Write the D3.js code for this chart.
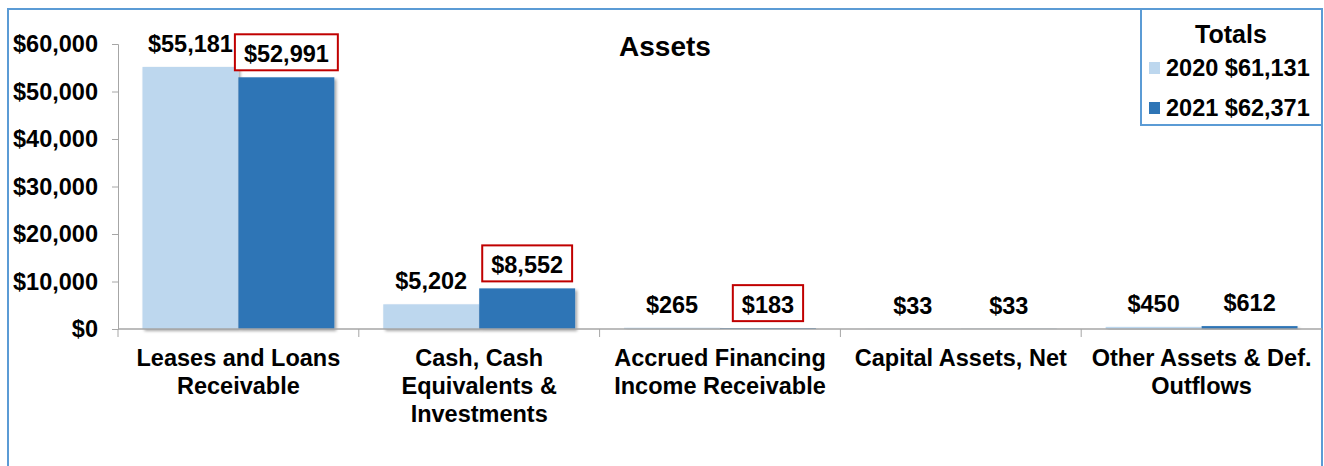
<!DOCTYPE html>
<html>
<head>
<meta charset="utf-8">
<script src="https://cdn.jsdelivr.net/npm/d3@7"></script>
<style>
  body { margin: 0; background: #fff; }
  svg { display: block; font-family: Arial, "Liberation Sans", sans-serif; font-weight: bold; }
</style>
</head>
<body>
<script>
const categories = [
    ["Leases and Loans", "Receivable"],
    ["Cash, Cash", "Equivalents &", "Investments"],
    ["Accrued Financing", "Income Receivable"],
    ["Capital Assets, Net"],
    ["Other Assets & Def.", "Outflows"]
];
const seriesNames = ["2020", "2021"];
const values2020 = [55181, 5202, 265, 33, 450];
const values2021 = [52991, 8552, 183, 33, 612];
const totals = [61131, 62371];
const boxed2021 = [true, true, true, false, false];
const yTicks = [0, 10000, 20000, 30000, 40000, 50000, 60000];

const width = 1324, height = 466;
const colors = {"2020": "#bdd7ee", "2021": "#2e75b6"};
const borderColor = "#5b9bd5";
const fmt = v => "$" + d3.format(",")(v);
const fontSize = 23.5;

const svg = d3.select("body").append("svg")
    .attr("width", width)
    .attr("height", height);

const defs = svg.append("defs");
const shadow = defs.append("filter").attr("id", "shadow")
    .attr("x", "-10%").attr("y", "-10%").attr("width", "130%").attr("height", "130%");
shadow.append("feDropShadow")
    .attr("dx", 2).attr("dy", 2).attr("stdDeviation", 1.5)
    .attr("flood-color", "#000").attr("flood-opacity", 0.35);

// outer border (no bottom edge visible)
svg.append("path")
    .attr("d", `M8,${height} L8,9 L1322,9 L1322,${height}`)
    .attr("fill", "none")
    .attr("stroke", borderColor)
    .attr("stroke-width", 2);

const x0 = d3.scaleBand()
    .domain(d3.range(categories.length))
    .range([118, 1322])
    .padding(0);

const x1 = d3.scaleBand()
    .domain(seriesNames)
    .range([0, x0.bandwidth()])
    .paddingInner(0)
    .paddingOuter(0.255);

const y = d3.scaleLinear()
    .domain([0, 60000])
    .range([329, 44]);

// y axis
const yAxis = svg.append("g")
    .attr("transform", "translate(118,0)")
    .call(d3.axisLeft(y).tickValues(yTicks).tickSize(6).tickPadding(14).tickFormat(fmt));
yAxis.selectAll("line, path").attr("stroke", "#a6a6a6");
yAxis.selectAll("text")
    .attr("font-size", fontSize)
    .attr("font-family", "Arial, 'Liberation Sans', sans-serif")
    .attr("font-weight", "bold")
    .attr("fill", "#000");

// bars
const rows = categories.map((c, i) => ({
    i,
    items: [
        {s: "2020", v: values2020[i], boxed: false},
        {s: "2021", v: values2021[i], boxed: boxed2021[i]}
    ]
}));

const groups = svg.append("g").selectAll("g")
    .data(rows)
    .join("g")
    .attr("transform", d => `translate(${x0(d.i)},0)`);

groups.selectAll("rect")
    .data(d => d.items)
    .join("rect")
    .attr("x", d => x1(d.s))
    .attr("y", d => y(d.v))
    .attr("width", x1.bandwidth())
    .attr("height", d => y(0) - y(d.v))
    .attr("fill", d => colors[d.s])
    .attr("filter", "url(#shadow)");

// x axis baseline and category ticks
const xAxis = svg.append("g");
xAxis.append("line")
    .attr("x1", 118).attr("x2", 1322)
    .attr("y1", y(0)).attr("y2", y(0))
    .attr("stroke", "#a6a6a6").attr("stroke-width", 1.5);
xAxis.selectAll(".cat-tick")
    .data(d3.range(categories.length))
    .join("line")
    .attr("class", "cat-tick")
    .attr("x1", d => x0(d)).attr("x2", d => x0(d))
    .attr("y1", y(0)).attr("y2", y(0) + 8)
    .attr("stroke", "#a6a6a6");

// category labels
svg.append("g").selectAll("text")
    .data(categories)
    .join("text")
    .attr("x", (d, i) => x0(i) + x0.bandwidth() / 2)
    .attr("y", 366)
    .attr("text-anchor", "middle")
    .attr("font-size", fontSize)
    .each(function(lines) {
        const t = d3.select(this);
        lines.forEach((line, k) => {
            t.append("tspan")
                .attr("x", t.attr("x"))
                .attr("dy", k === 0 ? 0 : 28)
                .text(line);
        });
    });

// value labels
const labels = groups.selectAll(".val")
    .data(d => d.items)
    .join("g")
    .attr("class", "val");

labels.append("text")
    .attr("x", d => x1(d.s) + x1.bandwidth() / 2)
    .attr("y", d => y(d.v) - 15)
    .attr("text-anchor", "middle")
    .attr("font-size", fontSize)
    .text(d => fmt(d.v));

// red boxes round the highlighted 2021 labels
labels.filter(d => d.boxed).each(function(d) {
    const g = d3.select(this);
    const w = g.select("text").node().getComputedTextLength();
    g.insert("rect", "text")
        .attr("x", x1(d.s) + x1.bandwidth() / 2 - w / 2 - 9)
        .attr("y", y(d.v) - 43)
        .attr("width", w + 18)
        .attr("height", 36)
        .attr("fill", "#fff")
        .attr("stroke", "#c00000")
        .attr("stroke-width", 2);
});

// title
svg.append("text")
    .attr("x", 665)
    .attr("y", 56)
    .attr("text-anchor", "middle")
    .attr("font-size", 28)
    .text("Assets");

// legend
const legend = svg.append("g");
legend.append("rect")
    .attr("x", 1141).attr("y", 9)
    .attr("width", 181).attr("height", 116)
    .attr("fill", "#fff")
    .attr("stroke", borderColor)
    .attr("stroke-width", 2);
legend.append("text")
    .attr("x", 1231).attr("y", 43)
    .attr("text-anchor", "middle")
    .attr("font-size", 25)
    .text("Totals");

const legendItems = legend.selectAll(".item")
    .data(seriesNames.map((s, i) => ({s, total: totals[i]})))
    .join("g")
    .attr("class", "item")
    .attr("transform", (d, i) => `translate(1149,${76 + i * 40})`);
legendItems.append("rect")
    .attr("x", 0).attr("y", -14)
    .attr("width", 11).attr("height", 12)
    .attr("fill", d => colors[d.s]);
legendItems.append("text")
    .attr("x", 17).attr("y", 0)
    .attr("font-size", fontSize)
    .text(d => `${d.s} ${fmt(d.total)}`);
</script>
</body>
</html>
